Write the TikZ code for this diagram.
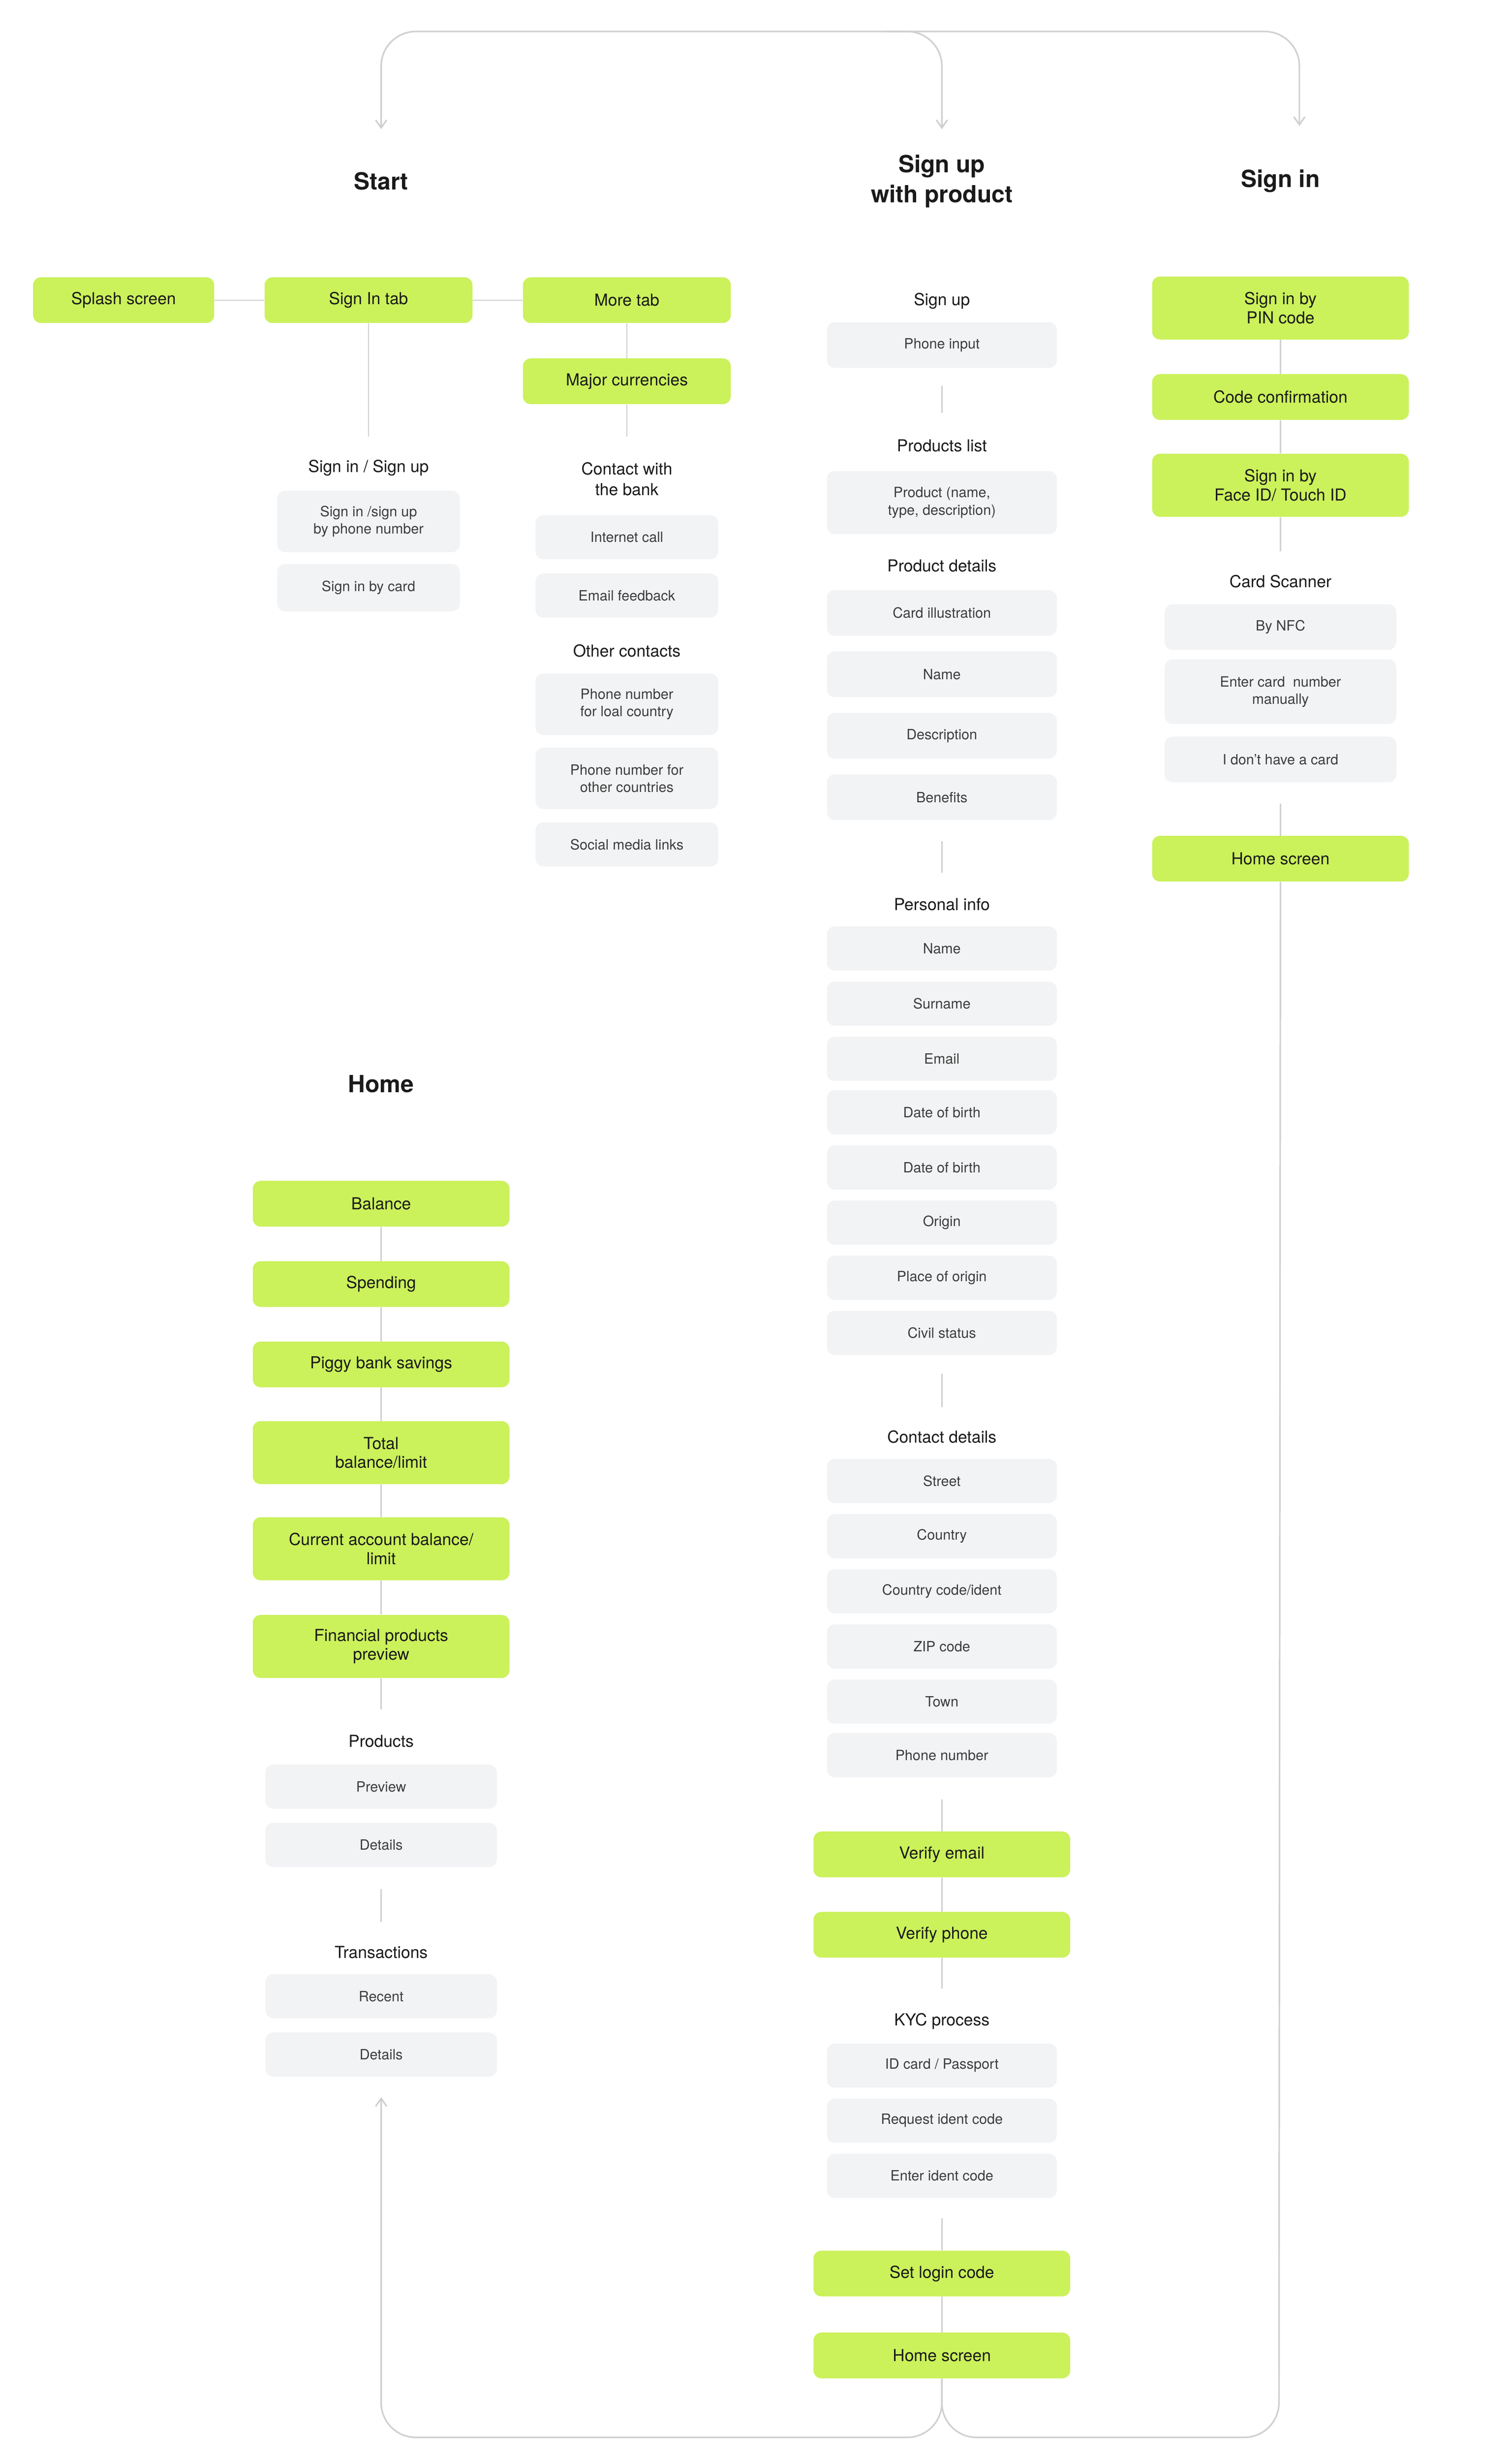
\documentclass[tikz,border=0pt]{standalone}
\usepackage{fontspec}
\setmainfont{TeX Gyre Heros}
\usetikzlibrary{arrows.meta}
\definecolor{lime}{RGB}{203,241,91}
\definecolor{chip}{RGB}{242,243,245}
\definecolor{wire}{RGB}{208,208,208}
\definecolor{ink}{RGB}{26,26,26}
\tikzset{
  >={Straight Barb[length=5pt,width=7pt]},
  green/.style={fill=lime,rounded corners=5pt,minimum height=29pt,align=center,text=ink,font=\fontsize{10.5}{12}\selectfont,inner sep=1pt},
  gray/.style={fill=chip,rounded corners=5pt,minimum height=28pt,align=center,text=ink!85,font=\fontsize{9}{11}\selectfont,inner sep=1pt},
  lbl/.style={align=center,text=ink,font=\fontsize{10.5}{13}\selectfont},
  ttl/.style={align=center,text=ink,font=\fontsize{15}{19}\bfseries\selectfont},
  conn/.style={draw=wire,line width=0.8pt},
  loop/.style={draw=wire,line width=1pt,rounded corners=22pt}
}
\begin{document}
\begin{tikzpicture}[x=1pt,y=-1pt]
\useasboundingbox (0,0) rectangle (960,1562);

% titles
\node[ttl] (tStart) at (242,115) {Start};
\node[ttl] (tUp) at (598,115) {Sign up\\with product};
\node[ttl] (tIn) at (813,115) {Sign in};
\node[ttl] (tHome) at (242,688) {Home};

% start column
\node[green,minimum width=115pt] (splash) at (78.5,190.5) {Splash screen};
\node[green,minimum width=132pt] (signtab) at (234,190.5) {Sign In tab};
\node[green,minimum width=132pt] (more) at (398,190.5) {More tab};
\node[green,minimum width=132pt] (major) at (398,242) {Major currencies};
\coordinate (signtabEnd) at (234,277);
\coordinate (majorEnd) at (398,277);
\draw[conn] (splash) -- (signtab);
\draw[conn] (signtab) -- (more);
\draw[conn] (signtab) -- (signtabEnd);
\draw[conn] (more) -- (major);
\draw[conn] (major) -- (majorEnd);

\node[lbl] (lSign) at (234,297) {Sign in / Sign up};
\node[gray,minimum width=116pt,minimum height=39pt] (byPhone) at (234,331) {Sign in /sign up\\by phone number};
\node[gray,minimum width=116pt,minimum height=30pt] (byCard) at (234,373) {Sign in by card};

\node[lbl] (lContact) at (398,304) {Contact with\\the bank};
\node[gray,minimum width=116pt] (call) at (398,341) {Internet call};
\node[gray,minimum width=116pt] (feedback) at (398,378) {Email feedback};
\node[lbl] (lOther) at (398,413) {Other contacts};
\node[gray,minimum width=116pt,minimum height=39pt] (phoneLocal) at (398,447) {Phone number\\for loal country};
\node[gray,minimum width=116pt,minimum height=39pt] (phoneOther) at (398,494) {Phone number for\\other countries};
\node[gray,minimum width=116pt] (social) at (398,536) {Social media links};

% sign up column
\node[lbl] (lUp) at (598,191) {Sign up};
\node[gray,minimum width=146pt,minimum height=29pt] (phoneIn) at (598,219) {Phone input};
\coordinate (pA) at (598,245); \coordinate (pB) at (598,262);
\draw[conn] (pA) -- (pB);
\node[lbl] (lList) at (598,283) {Products list};
\node[gray,minimum width=146pt,minimum height=40pt] (product) at (598,319) {Product (name,\\type, description)};
\node[lbl] (lDetails) at (598,359) {Product details};
\foreach \t/\y [count=\i] in {Card illustration/389,Name/428,Description/467,Benefits/506}
  \node[gray,minimum width=146pt,minimum height=29pt] (pd\i) at (598,\y) {\t};
\coordinate (qA) at (598,534); \coordinate (qB) at (598,554);
\draw[conn] (qA) -- (qB);
\node[lbl] (lPersonal) at (598,574) {Personal info};
\foreach \t/\y [count=\i] in {Name/602,Surname/637,Email/672,Date of birth/706,Date of birth/741,Origin/776,Place of origin/811,Civil status/846}
  \node[gray,minimum width=146pt] (pi\i) at (598,\y) {\t};
\coordinate (rA) at (598,872); \coordinate (rB) at (598,893);
\draw[conn] (rA) -- (rB);
\node[lbl] (lCd) at (598,912) {Contact details};
\foreach \t/\y [count=\i] in {Street/940,Country/975,{Country code/ident}/1010,ZIP code/1045,Town/1080,Phone number/1114}
  \node[gray,minimum width=146pt] (cd\i) at (598,\y) {\t};
\coordinate (sA) at (598,1142);
\node[green,minimum width=163pt] (vEmail) at (598,1177) {Verify email};
\node[green,minimum width=163pt] (vPhone) at (598,1228) {Verify phone};
\coordinate (sB) at (598,1262);
\draw[conn] (sA) -- (vEmail);
\draw[conn] (vEmail) -- (vPhone);
\draw[conn] (vPhone) -- (sB);
\node[lbl] (lKyc) at (598,1283) {KYC process};
\foreach \t/\y [count=\i] in {{ID card / Passport}/1311,Request ident code/1346,Enter ident code/1381}
  \node[gray,minimum width=146pt] (kyc\i) at (598,\y) {\t};
\coordinate (tA) at (598,1408);
\node[green,minimum width=163pt] (login) at (598,1443) {Set login code};
\node[green,minimum width=163pt] (homeUp) at (598,1495) {Home screen};
\draw[conn] (tA) -- (login);
\draw[conn] (login) -- (homeUp);

% sign in column
\node[green,minimum width=163pt,minimum height=40pt] (pin) at (813,195.5) {Sign in by\\PIN code};
\node[green,minimum width=163pt] (confirm) at (813,252) {Code confirmation};
\node[green,minimum width=163pt,minimum height=40pt] (face) at (813,308) {Sign in by\\Face ID/ Touch ID};
\coordinate (faceEnd) at (813,350);
\draw[conn] (pin) -- (confirm);
\draw[conn] (confirm) -- (face);
\draw[conn] (face) -- (faceEnd);
\node[lbl] (lScan) at (813,369) {Card Scanner};
\node[gray,minimum width=147pt,minimum height=29pt] (nfc) at (813,398) {By NFC};
\node[gray,minimum width=147pt,minimum height=41pt] (manual) at (813,439) {Enter card \ number\\manually};
\node[gray,minimum width=147pt,minimum height=29pt] (nocard) at (813,482) {I don't have a card};
\coordinate (uA) at (813,510);
\node[green,minimum width=163pt] (homeIn) at (813,545) {Home screen};
\draw[conn] (uA) -- (homeIn);

% home column
\foreach \t/\y/\h [count=\i] in {Balance/764/29,Spending/815/29,Piggy bank savings/866/29,
  {Total\\balance/limit}/922/40,{Current account balance/\\limit}/983/40,{Financial products\\preview}/1045/40}
  \node[green,minimum width=163pt,minimum height=\h pt] (h\i) at (242,\y) {\t};
\foreach \i [evaluate=\i as \j using int(\i+1)] in {1,...,5}
  \draw[conn] (h\i) -- (h\j);
\coordinate (hEnd) at (242,1085);
\draw[conn] (h6) -- (hEnd);
\node[lbl] (lProd) at (242,1105) {Products};
\node[gray,minimum width=147pt] (prev) at (242,1134) {Preview};
\node[gray,minimum width=147pt] (pdet) at (242,1171) {Details};
\coordinate (vA) at (242,1199); \coordinate (vB) at (242,1220);
\draw[conn] (vA) -- (vB);
\node[lbl] (lTrans) at (242,1239) {Transactions};
\node[gray,minimum width=147pt] (recent) at (242,1267) {Recent};
\node[gray,minimum width=147pt] (tdet) at (242,1304) {Details};

% loops
\coordinate (topStart) at (242,82);
\coordinate (topUp) at (598,82);
\coordinate (topIn) at (825,80);
\coordinate (homeArrow) at (242,1331);
\draw[loop,<->] (topStart) |- (825,20) -- (topIn);
\draw[loop,->] (560,20) -| (topUp);
\draw[loop,->] (homeUp) |- (242,1547) -- (homeArrow);
\draw[loop] (homeUp) |- (812,1547) -- (homeIn);
\end{tikzpicture}
\end{document}
